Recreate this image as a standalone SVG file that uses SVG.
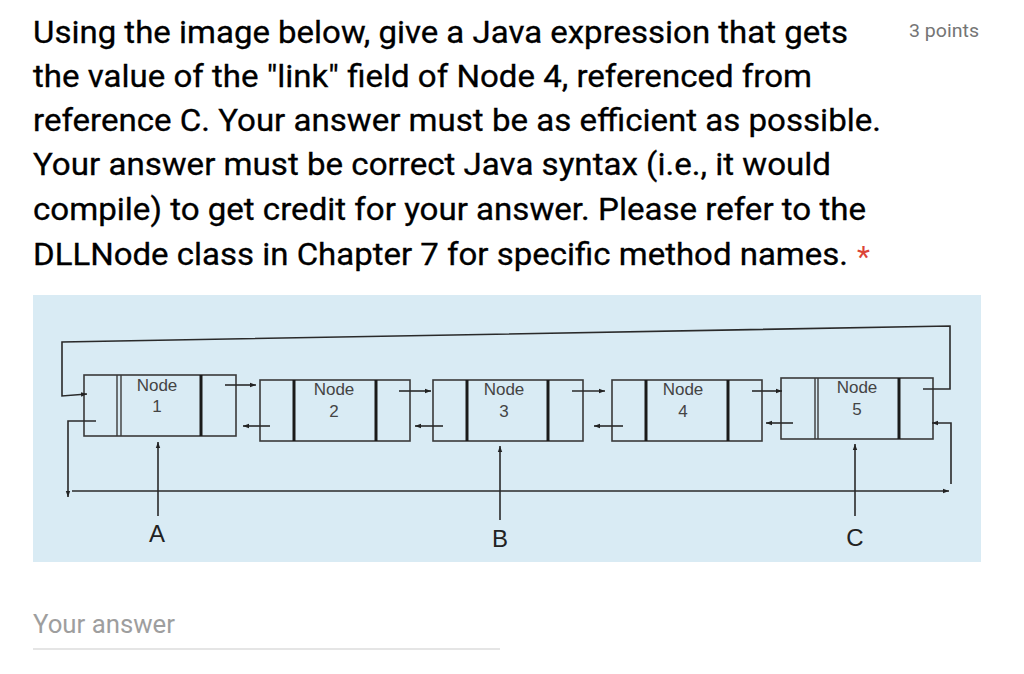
<svg xmlns="http://www.w3.org/2000/svg" width="1024" height="674" viewBox="0 0 1024 674">
<defs>
<marker id="ah" markerUnits="userSpaceOnUse" markerWidth="8" markerHeight="6" refX="6" refY="3" orient="auto">
<path d="M0,0.8 L6,3 L0,5.2 Z" fill="#222"/>
</marker>
<style>
.q{font-family:Roboto,"Liberation Sans",sans-serif;font-size:30.5px;fill:#000;stroke:#000;stroke-width:0.3}
.box{fill:none;stroke:#3a3a3a;stroke-width:1.6}
.thick{stroke:#1a1a1a;stroke-width:3}
.thin{stroke:#3a3a3a;stroke-width:1.4}
.nt{font-family:"Liberation Sans",Arial,sans-serif;font-size:17px;fill:#444;text-anchor:middle}
.lbl{font-family:"Liberation Sans",Arial,sans-serif;font-size:24px;fill:#222;text-anchor:middle}
.c{fill:none;stroke:#2a2a2a;stroke-width:1.6}
.ca{fill:none;stroke:#2a2a2a;stroke-width:1.6;marker-end:url(#ah)}
</style>
</defs>
<rect width="1024" height="674" fill="#ffffff"/>
<g id="question">
<text class="q" x="33" y="43" textLength="815" lengthAdjust="spacingAndGlyphs">Using the image below, give a Java expression that gets</text>
<text class="q" x="33" y="87" textLength="779" lengthAdjust="spacingAndGlyphs">the value of the "link" field of Node 4, referenced from</text>
<text class="q" x="33" y="131" textLength="848" lengthAdjust="spacingAndGlyphs">reference C. Your answer must be as efficient as possible.</text>
<text class="q" x="33" y="175" textLength="798" lengthAdjust="spacingAndGlyphs">Your answer must be correct Java syntax (i.e., it would</text>
<text class="q" x="33" y="220" textLength="833" lengthAdjust="spacingAndGlyphs">compile) to get credit for your answer. Please refer to the</text>
<text class="q" x="33" y="265" textLength="815" lengthAdjust="spacingAndGlyphs">DLLNode class in Chapter 7 for specific method names.</text>
<text x="857" y="267" font-family="Roboto,'Liberation Sans',sans-serif" font-size="30px" fill="#db4437">*</text>
<text x="909" y="37" font-family="Roboto,'Liberation Sans',sans-serif" font-size="18px" fill="#757575" textLength="70" lengthAdjust="spacingAndGlyphs">3 points</text>
</g>
<rect id="panel" x="33" y="295" width="948" height="267" fill="#d9ebf4"/>
<g id="node1">
<rect class="box" x="84" y="375" width="152" height="61"/>
<line class="thin" x1="117" y1="375" x2="117" y2="436"/>
<line class="thin" x1="121" y1="375" x2="121" y2="436"/>
<line class="thick" x1="201" y1="375" x2="201" y2="436"/>
<text class="nt" x="157" y="391">Node</text>
<text class="nt" x="157" y="412">1</text>
</g>
<g id="node2">
<rect class="box" x="260" y="380" width="150" height="61"/>
<line class="thick" x1="294" y1="380" x2="294" y2="441"/>
<line class="thick" x1="376" y1="380" x2="376" y2="441"/>
<text class="nt" x="334" y="395">Node</text>
<text class="nt" x="334" y="417">2</text>
</g>
<g id="node3">
<rect class="box" x="433" y="380" width="150" height="61"/>
<line class="thick" x1="467" y1="380" x2="467" y2="441"/>
<line class="thick" x1="548" y1="380" x2="548" y2="441"/>
<text class="nt" x="504" y="395">Node</text>
<text class="nt" x="504" y="417">3</text>
</g>
<g id="node4">
<rect class="box" x="612" y="380" width="150" height="61"/>
<line class="thick" x1="646" y1="380" x2="646" y2="441"/>
<line class="thick" x1="728" y1="380" x2="728" y2="441"/>
<text class="nt" x="683" y="395">Node</text>
<text class="nt" x="683" y="417">4</text>
</g>
<g id="node5">
<rect class="box" x="781" y="378" width="152" height="61"/>
<line class="thin" x1="815" y1="378" x2="815" y2="439"/>
<line class="thin" x1="818" y1="378" x2="818" y2="439"/>
<line class="thick" x1="899" y1="378" x2="899" y2="439"/>
<text class="nt" x="857" y="393">Node</text>
<text class="nt" x="857" y="415">5</text>
</g>
<g id="connectors">
<path class="ca" d="M225,385 L256,385"/>
<path class="ca" d="M270,426 L243,426"/>
<path class="ca" d="M399,391 L431,391"/>
<path class="ca" d="M443,426 L415,426"/>
<path class="ca" d="M572,391 L605,391"/>
<path class="ca" d="M623,426 L594,426"/>
<path class="ca" d="M752,391 L782,391"/>
<path class="ca" d="M793,423 L766,423"/>
<path class="ca" d="M923,389 L950,389 L950,326 L62,342 L62,396 L87,394"/>
<path class="ca" d="M96,421 L68,421 L68,497"/>
<path class="ca" d="M72,491 L949,491"/>
<path class="ca" d="M951,484 L951,423 L932,423"/>
<path class="ca" d="M158,516 L158,442"/>
<path class="ca" d="M500,520 L500,446"/>
<path class="ca" d="M855,516 L855,444"/>
</g>
<g id="labels">
<text class="lbl" x="157" y="542">A</text>
<text class="lbl" x="500" y="547">B</text>
<text class="lbl" x="855" y="546">C</text>
</g>
<g id="answer">
<text x="33" y="633" font-family="Roboto,'Liberation Sans',sans-serif" font-size="26px" fill="#9e9e9e" textLength="142" lengthAdjust="spacingAndGlyphs">Your answer</text>
<line x1="33" y1="649" x2="500" y2="649" stroke="#dcdcdc" stroke-width="1.5"/>
</g>
</svg>
